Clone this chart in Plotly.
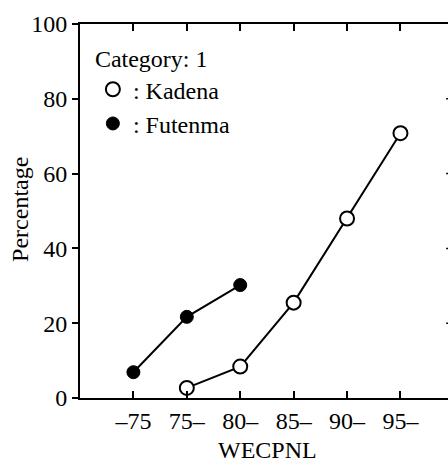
import plotly.graph_objects as go

# WECPNL noise-exposure bands and response percentages
categories = ["\u201375", "75\u2013", "80\u2013", "85\u2013", "90\u2013", "95\u2013"]
kadena_bands = ["75\u2013", "80\u2013", "85\u2013", "90\u2013", "95\u2013"]
kadena_pct = [2.7, 8.4, 25.5, 48.0, 70.8]
futenma_bands = ["\u201375", "75\u2013", "80\u2013"]
futenma_pct = [6.9, 21.7, 30.2]
y_ticks = [0, 20, 40, 60, 80, 100]

pos = {c: i + 1 for i, c in enumerate(categories)}
kx = [pos[c] for c in kadena_bands]
fx = [pos[c] for c in futenma_bands]

FONT = "Liberation Serif, Times New Roman, serif"
FS = 24

fig = go.Figure()
# connecting lines
fig.add_trace(go.Scatter(x=fx, y=futenma_pct, mode="lines",
                         line=dict(color="black", width=2), showlegend=False, hoverinfo="skip"))
fig.add_trace(go.Scatter(x=kx, y=kadena_pct, mode="lines",
                         line=dict(color="black", width=2), showlegend=False, hoverinfo="skip"))
# markers (these carry the legend entries)
fig.add_trace(go.Scatter(x=kx, y=kadena_pct, mode="markers", name=": Kadena",
                         marker=dict(symbol="circle", size=14, color="white",
                                     line=dict(color="black", width=2))))
fig.add_trace(go.Scatter(x=fx, y=futenma_pct, mode="markers", name=": Futenma",
                         marker=dict(symbol="circle", size=13, color="black",
                                     line=dict(color="black", width=1))))

fig.update_layout(
    width=448, height=466,
    margin=dict(l=80, r=0, t=24, b=68),
    paper_bgcolor="white", plot_bgcolor="white",
    font=dict(family=FONT, size=FS, color="black"),
    showlegend=True,
    legend=dict(
        title=dict(text="Category: 1", font=dict(family=FONT, size=FS)),
        x=0.035, y=0.968, xanchor="left", yanchor="top",
        bgcolor="rgba(0,0,0,0)", font=dict(family=FONT, size=FS),
        itemwidth=30, tracegroupgap=0,
    ),
    xaxis=dict(
        range=[0, 6.89], tickmode="array",
        tickvals=list(range(1, len(categories) + 1)), ticktext=categories,
        ticks="inside", ticklen=7, tickwidth=1.5, tickcolor="black",
        showline=True, linecolor="black", linewidth=2, mirror="ticks",
        showgrid=False, zeroline=False,
        tickfont=dict(family=FONT, size=FS),
    ),
    yaxis=dict(
        range=[0, 100], tickmode="array", tickvals=y_ticks,
        ticks="outside", ticklen=6, tickwidth=1.5, tickcolor="black",
        showline=True, linecolor="black", linewidth=2,
        showgrid=False, zeroline=False,
        tickfont=dict(family=FONT, size=FS),
    ),
)

# axis titles placed as annotations for exact positioning
fig.add_annotation(text="WECPNL", xref="paper", yref="paper", x=0.51, y=-0.139,
                   xanchor="center", yanchor="middle", showarrow=False,
                   font=dict(family=FONT, size=FS))
fig.add_annotation(text="Percentage", xref="paper", yref="paper", x=-0.163, y=0.503,
                   xanchor="center", yanchor="middle", textangle=-90, showarrow=False,
                   font=dict(family=FONT, size=FS))

# inward tick marks along the right edge
for v in y_ticks[1:-1]:
    fig.add_shape(type="line", xref="paper", yref="y", x0=0.995, x1=1.0, y0=v, y1=v,
                  line=dict(color="black", width=1.5))

fig.write_html("out.html")
